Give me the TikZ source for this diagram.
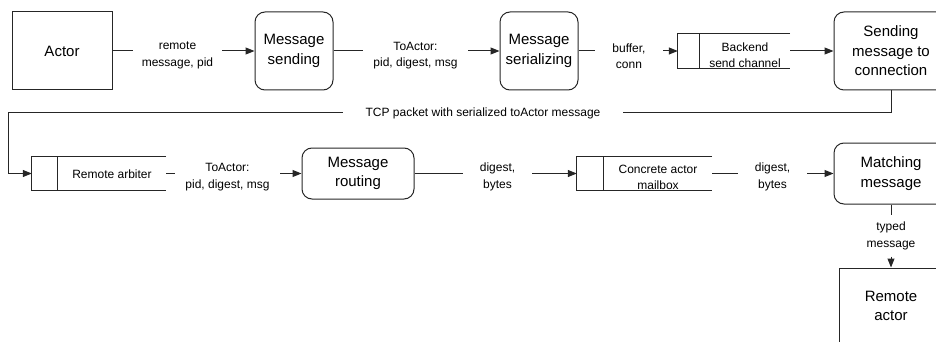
\documentclass[tikz,border=0pt]{standalone}
\usepackage{fontspec}
\setmainfont{Liberation Sans}
\usetikzlibrary{arrows.meta}

\begin{document}
\begin{tikzpicture}[x=1pt, y=-1pt,
  link/.style={line width=1pt, line join=miter, draw=black!85},
  flow/.style={link, -{Triangle[length=9pt,width=7pt]}},
  proc/.style={draw=black!85, line width=1pt, rounded corners=10pt, align=center,
    inner sep=0pt, font=\fontsize{15}{19.5}\selectfont},
  plainbox/.style={draw=black!85, line width=1pt, align=center, inner sep=0pt,
    font=\fontsize{15}{19.5}\selectfont},
  frame/.style={inner sep=0pt},
  qtext/.style={align=center, inner sep=0pt, font=\fontsize{12}{16}\selectfont},
  lbl/.style={align=center, inner sep=0pt, font=\fontsize{12}{16.5}\selectfont}
]
\useasboundingbox (0,0) rectangle (936,342);
\clip (0,0) rectangle (936,342);

% ---------- sending side ----------
\node[plainbox, minimum width=100pt, minimum height=78pt] (actor) at (62,51) {Actor};
\node[proc, minimum width=78pt, minimum height=78pt] (send) at (294,51) {Message\\sending};
\node[proc, minimum width=78pt, minimum height=78pt] (ser) at (539,51) {Message\\serializing};
\node[frame, minimum width=112pt, minimum height=34pt] (backend) at (734,51) {};
\node[qtext] (backendtxt) at (745,55) {Backend\\send channel};
\node[proc, minimum width=114pt, minimum height=78pt] (conn) at (891,51) {Sending\\message to\\connection};

\node[lbl, minimum width=89pt] (l1) at (177.5,55.5) {remote\\message, pid};
\node[lbl, minimum width=105pt] (l2) at (415.5,55.5) {ToActor:\\pid, digest, msg};
\node[lbl, minimum width=68pt] (l3) at (629,56) {buffer,\\conn};

\draw[link] (actor.east) -- (actor.east -| l1.west);
\draw[flow] (actor.east -| l1.east) -- (send.west);
\draw[link] (send.east) -- (send.east -| l2.west);
\draw[flow] (send.east -| l2.east) -- (ser.west);
\draw[link] (ser.east) -- (ser.east -| l3.west);
\draw[flow] (ser.east -| l3.east) -- (backend.west);
\draw[flow] (backend.east) -- (conn.west);

% queue outline (open on the right)
\draw[link] (backend.north east) -- (backend.north west) -- (backend.south west) -- (backend.south east);
\draw[link] ([xshift=22pt]backend.north west) -- ([xshift=22pt]backend.south west);

% ---------- network hop ----------
\node[lbl, minimum width=280pt] (tcp) at (483,113) {TCP packet with serialized toActor message};
\coordinate (bend) at (8,113);

% ---------- receiving side ----------
\node[frame, minimum width=134pt, minimum height=33pt] (arb) at (99,173.5) {};
\node[qtext] (arbtxt) at (112,174) {Remote arbiter};
\node[proc, minimum width=112pt, minimum height=51pt] (route) at (358,173.5) {Message\\routing};
\node[frame, minimum width=135pt, minimum height=33pt] (mbox) at (644.5,173.5) {};
\node[qtext] (mboxtxt) at (658,177) {Concrete actor\\mailbox};
\node[proc, minimum width=114pt, minimum height=61pt] (match) at (891,173.5) {Matching\\message};
\node[plainbox, minimum width=104pt, minimum height=76pt] (ractor) at (891,306) {Remote\\actor};

\node[lbl, minimum width=105pt] (l4) at (227.5,177) {ToActor:\\pid, digest, msg};
\node[lbl, minimum width=69pt] (l5) at (497.5,177) {digest,\\bytes};
\node[lbl, minimum width=69pt] (l6) at (772.5,177) {digest,\\bytes};
\node[lbl, minimum height=41pt] (l7) at (891,236) {typed\\message};

\draw[link] (conn.south) -- (conn.south |- tcp.east) -- (tcp.east);
\draw[flow] (tcp.west) -- (bend) |- (arb.west);

\draw[link] (arb.north east) -- (arb.north west) -- (arb.south west) -- (arb.south east);
\draw[link] ([xshift=26pt]arb.north west) -- ([xshift=26pt]arb.south west);
\draw[link] (mbox.north east) -- (mbox.north west) -- (mbox.south west) -- (mbox.south east);
\draw[link] ([xshift=27pt]mbox.north west) -- ([xshift=27pt]mbox.south west);

\draw[link] (arb.east) -- (arb.east -| l4.west);
\draw[flow] (arb.east -| l4.east) -- (route.west);
\draw[link] (route.east) -- (route.east -| l5.west);
\draw[flow] (route.east -| l5.east) -- (mbox.west);
\draw[link] (mbox.east) -- (mbox.east -| l6.west);
\draw[flow] (mbox.east -| l6.east) -- (match.west);
\draw[link] (match.south) -- (l7.north);
\draw[flow] (l7.south) -- (ractor.north);
\end{tikzpicture}
\end{document}
